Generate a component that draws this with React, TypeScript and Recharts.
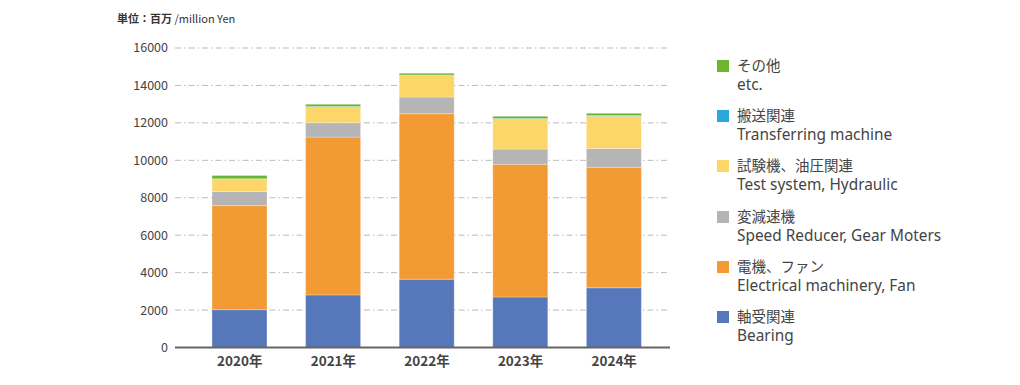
import React from "react";
import { Bar, BarChart, CartesianGrid, XAxis, YAxis } from "recharts";

const years = ["2020年", "2021年", "2022年", "2023年", "2024年"];
const bearing = [2020, 2810, 3650, 2700, 3190];
const electrical = [5560, 8430, 8840, 7090, 6440];
const reducer = [750, 770, 890, 810, 1000];
const testSystem = [660, 830, 1150, 1600, 1730];
const transferring = [30, 30, 30, 30, 30];
const etc = [170, 120, 90, 120, 120];
const yTicks = [0, 2000, 4000, 6000, 8000, 10000, 12000, 14000, 16000];

const series = [
  { key: "bearing", ja: "軸受関連", en: "Bearing", color: "#5677ba" },
  { key: "electrical", ja: "電機、ファン", en: "Electrical machinery, Fan", color: "#f29a33" },
  { key: "reducer", ja: "変減速機", en: "Speed Reducer, Gear Moters", color: "#b4b5b4" },
  { key: "testSystem", ja: "試験機、油圧関連", en: "Test system, Hydraulic", color: "#fcd669" },
  { key: "transferring", ja: "搬送関連", en: "Transferring machine", color: "#29a8e0" },
  { key: "etc", ja: "その他", en: "etc.", color: "#6db52e" },
];

const data = years.map((year, i) => ({
  year,
  bearing: bearing[i],
  electrical: electrical[i],
  reducer: reducer[i],
  testSystem: testSystem[i],
  transferring: transferring[i],
  etc: etc[i],
}));

const font = '"Noto Sans CJK JP", "Noto Sans", sans-serif';
const textColor = "#444";

function LegendBox() {
  const items = [...series].reverse();
  return (
    <div style={{ position: "absolute", left: 717, top: 55, fontFamily: font, color: textColor }}>
      {items.map((s) => (
        <div key={s.key} style={{ height: 50.2, position: "relative" }}>
          <div
            style={{
              position: "absolute",
              left: 0,
              top: 5,
              width: 12,
              height: 12,
              background: s.color,
            }}
          />
          <div style={{ position: "absolute", left: 20, top: 0, whiteSpace: "nowrap" }}>
            <div style={{ fontSize: 14.5, lineHeight: "20px" }}>{s.ja}</div>
            <div style={{ fontSize: 15.4, lineHeight: "20px", fontFamily: '"Noto Sans", sans-serif' }}>
              {s.en}
            </div>
          </div>
        </div>
      ))}
    </div>
  );
}

export default function App() {
  return (
    <div
      style={{
        position: "absolute",
        left: 0,
        top: 0,
        width: 1020,
        height: 385,
        background: "#fff",
        fontFamily: font,
      }}
    >
      <div
        style={{
          position: "absolute",
          left: 117,
          top: 10,
          fontSize: 11,
          color: "#333",
          whiteSpace: "nowrap",
        }}
      >
        <span style={{ fontWeight: 700 }}>単位：百万</span> /million Yen
      </div>
      <div style={{ position: "absolute", left: 0, top: 0 }}>
        <BarChart
          width={690}
          height={385}
          data={data}
          margin={{ top: 48, right: 20, left: 115, bottom: 7.5 }}
          barSize={55}
        >
          <CartesianGrid
            vertical={false}
            stroke="#bbbbbb"
            strokeDasharray="6 3 1.5 3"
          />
          <XAxis
            dataKey="year"
            height={30}
            padding={{ left: 18, right: 9 }}
            axisLine={{ stroke: "#666", strokeWidth: 2 }}
            tickLine={false}
            tickSize={0}
            tickMargin={9}
            tick={{ fill: textColor, fontSize: 13.5, fontWeight: 600, fontFamily: font }}
          />
          <YAxis
            width={60}
            domain={[0, 16000]}
            ticks={yTicks}
            interval={0}
            axisLine={false}
            tickLine={false}
            tickSize={0}
            tickMargin={7}
            tick={{ fill: textColor, fontSize: 12.5, fontFamily: font }}
          />
          {series.map((s) => (
            <Bar
              key={s.key}
              dataKey={s.key}
              stackId="a"
              fill={s.color}
              stroke="#ffffff"
              strokeOpacity={0.5}
              strokeWidth={0.6}
              isAnimationActive={false}
            />
          ))}
        </BarChart>
      </div>
      <LegendBox />
    </div>
  );
}
